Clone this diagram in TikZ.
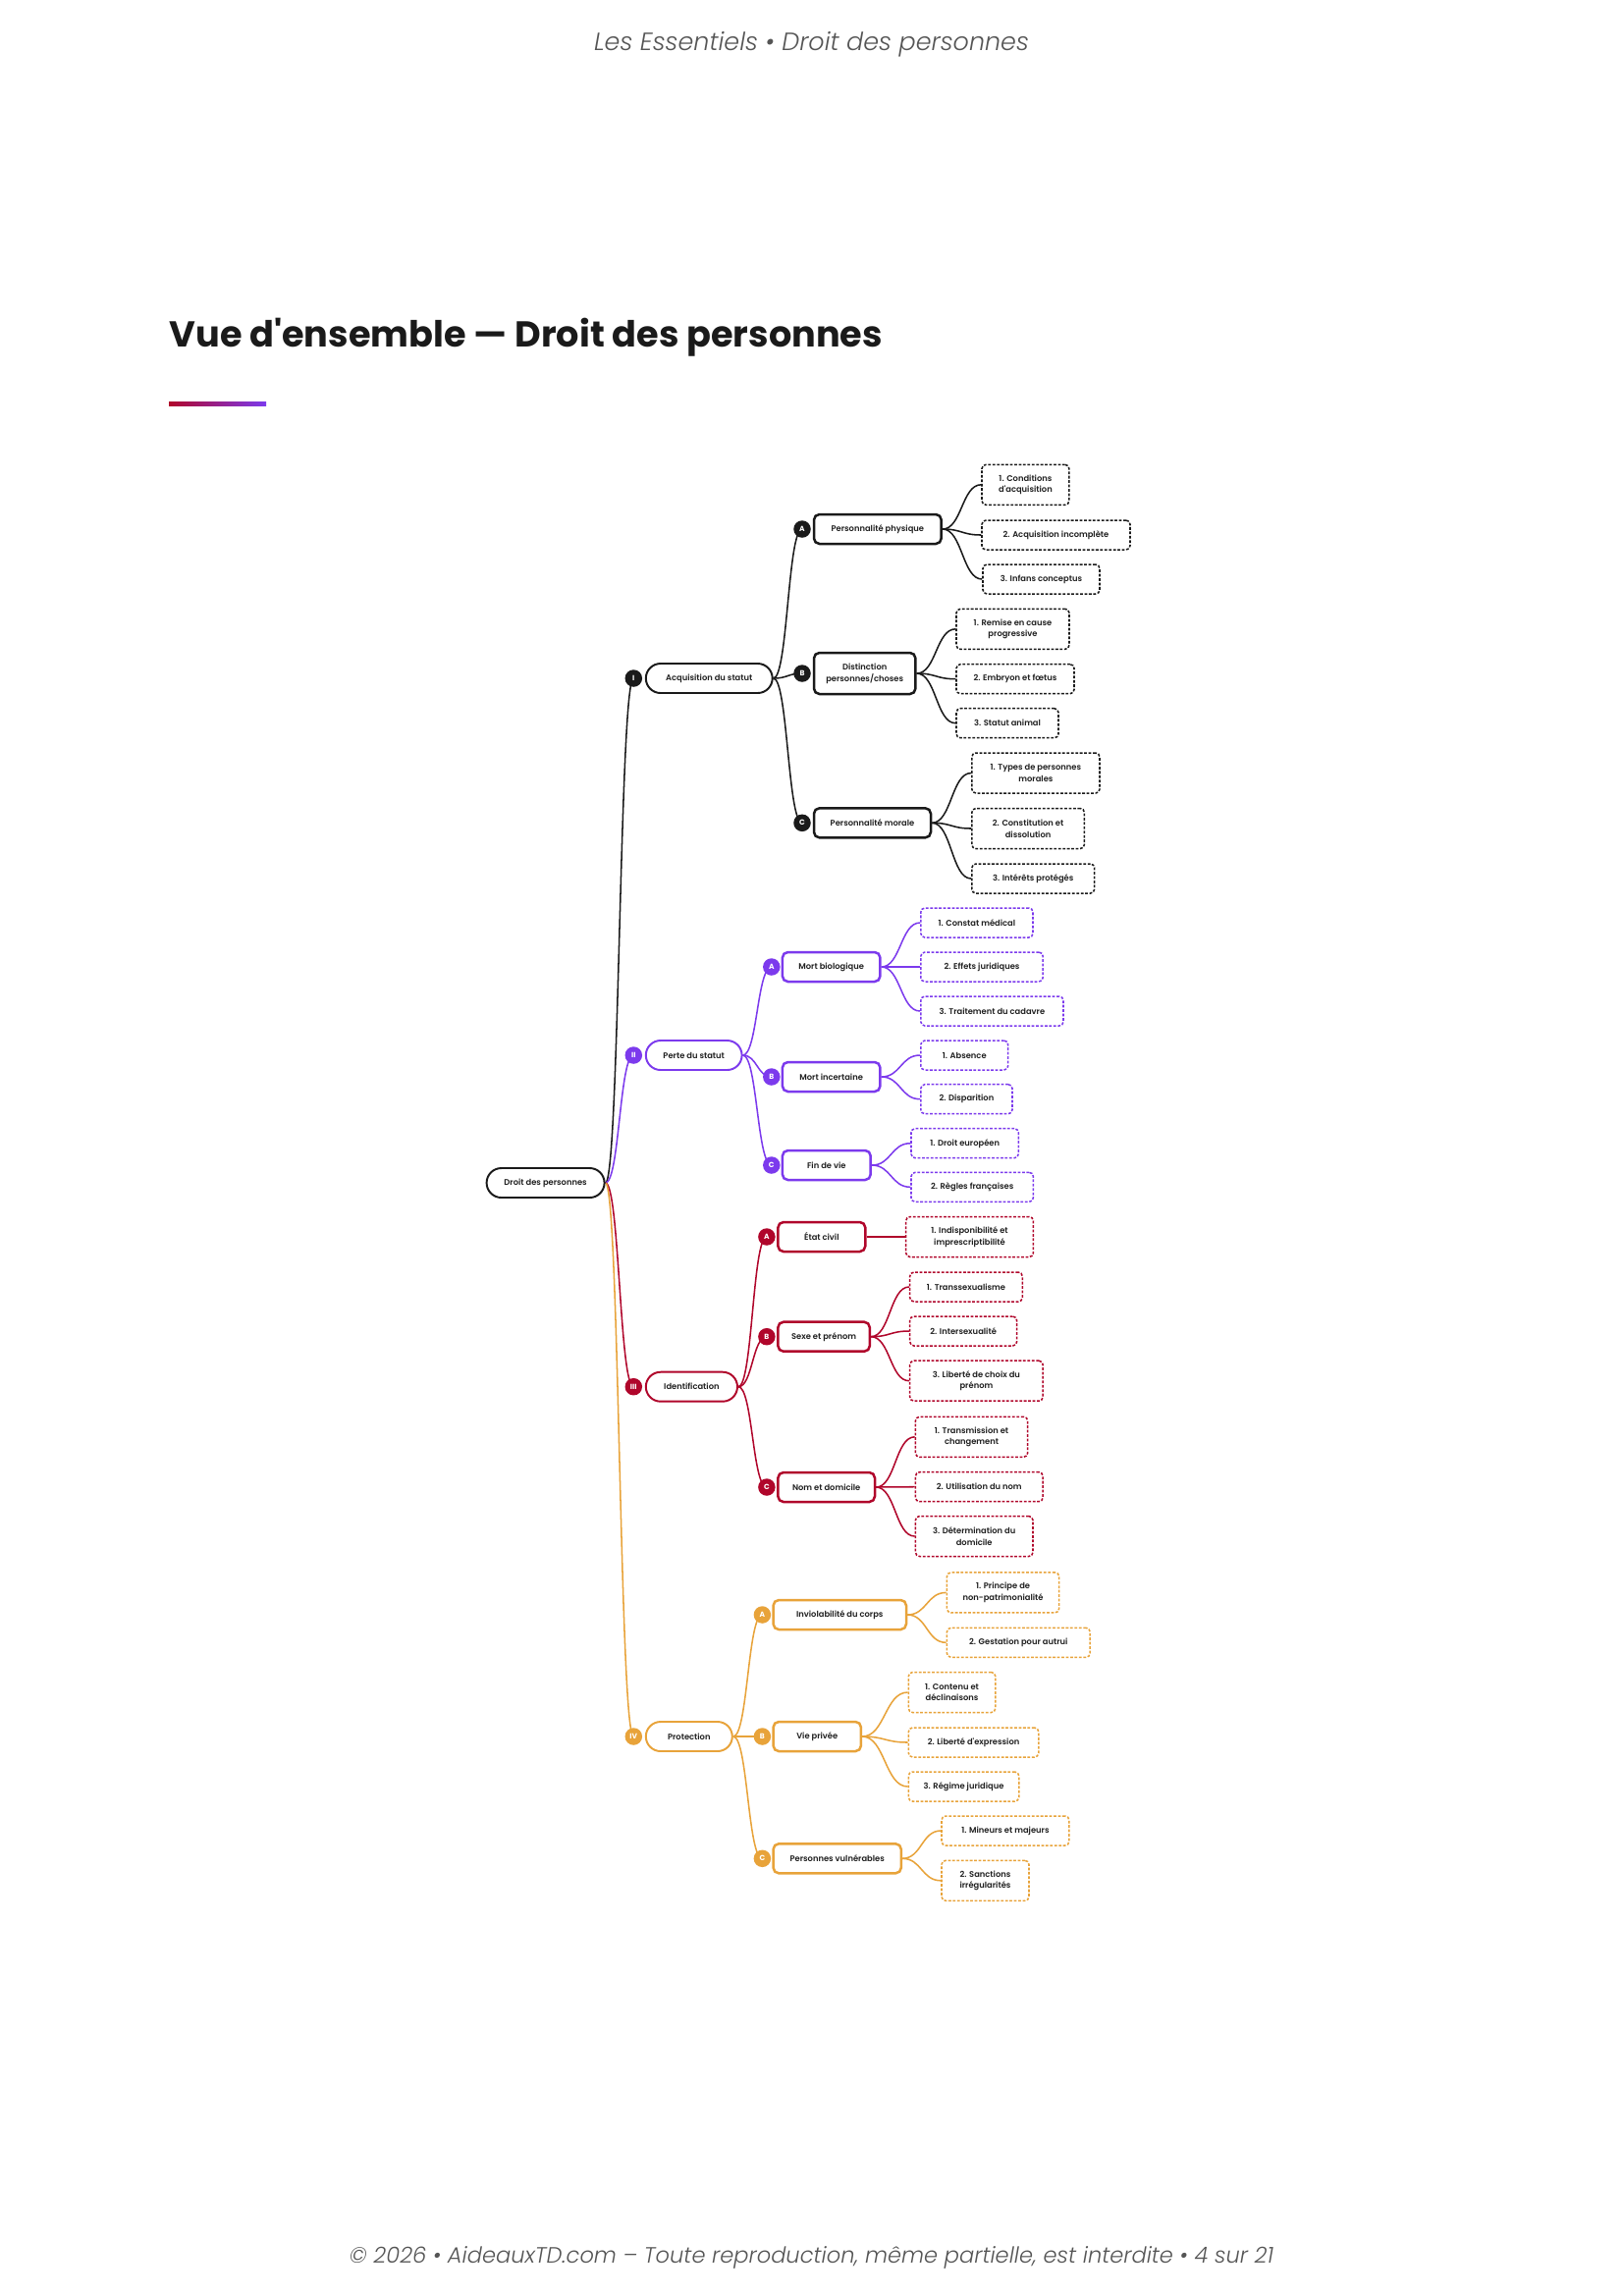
\documentclass[tikz,border=0pt]{standalone}
\usepackage{fontspec}
\setmainfont{Poppins}
\newfontfamily\pmed{Poppins SemiBold}
\newfontfamily\plight{Poppins Light}[ItalicFont={Poppins Light Italic}]
\usetikzlibrary{calc}
\definecolor{cblack}{HTML}{1A1A1A}
\definecolor{cpurple}{HTML}{7C3AED}
\definecolor{cred}{HTML}{B0062B}
\definecolor{corange}{HTML}{E8A33A}
\definecolor{ctext}{HTML}{1F1F1F}
\definecolor{cgray}{HTML}{555555}
\pgfdeclarelayer{bg}
\pgfsetlayers{bg,main}
\newcommand\nfont{\pmed\fontsize{3}{4.2}\selectfont}
\tikzset{
  rootbox/.style={draw=cblack, line width=0.7pt, fill=white, rounded corners=5.4pt, inner sep=0pt, font=\nfont, text=ctext},
  pill/.style={draw=#1, line width=0.7pt, fill=white, rounded corners=5.4pt, inner sep=0pt, font=\nfont, text=ctext},
  sub/.style={draw=#1, line width=0.9pt, fill=white, rounded corners=2pt, inner sep=0pt, font=\nfont, text=ctext, align=center},
  leaf/.style={draw=#1, line width=0.55pt, dash pattern=on 1pt off 0.6pt, fill=white, rounded corners=1.5pt, inner sep=0pt, font=\nfont, text=ctext, align=center},
  badge/.style={circle, fill=#1, minimum size=6.3pt, inner sep=0pt, text=white, font=\fontsize{2.7}{2.7}\selectfont\bfseries},
  lnk/.style={draw=#1, line width=0.55pt},
}
\newcommand\mknode[7]{\node[#1, minimum width={(#4-#3)*0.36pt}, minimum height={#6*0.36pt}] (#2) at ({(#3+#4)/2},#5) {#7};}
\newcommand\bdg[5]{\node[badge=#2] (#1) at (#3,#4) {#5};}
\newcommand\lk[3]{\draw[lnk=#1] let \p1=(#2), \p2=(#3) in (\p1) .. controls ({(\x1+\x2)/2},\y1) and ({(\x1+\x2)/2},\y2) .. (\p2);}
\begin{document}
\begin{tikzpicture}[x=0.36pt,y=-0.36pt]
\useasboundingbox (0,0) rectangle (1653,2339);
\begin{pgfonlayer}{bg}
\fill[white] (0,0) rectangle (1653,2339);
\end{pgfonlayer}

% header, title, footer
\node[font=\plight\fontsize{9.15}{11}\selectfont\itshape, text=cgray] (hdr) at (826.5,45) {Les Essentiels • Droit des personnes};
\node[anchor=west, font=\fontsize{13.2}{15}\selectfont\bfseries, text=cblack, inner sep=0pt] (title) at (172,344) {Vue d\textquotesingle ensemble — Droit des personnes};
\shade[left color=cred, right color=cpurple] (172,409) rectangle (271,413);
\node[font=\plight\fontsize{8.12}{10}\selectfont\itshape, text=cgray] (ftr) at (826.5,2300) {© 2026 • AideauxTD.com – Toute reproduction, même partielle, est interdite • 4 sur 21};

% root
\mknode{rootbox}{root}{495.6}{615.6}{1205}{30}{Droit des personnes}

% level 1
\mknode{pill=cblack}{I}{657.8}{786.7}{691}{30}{Acquisition du statut}
\mknode{pill=cpurple}{II}{657.8}{755.6}{1075}{30}{Perte du statut}
\mknode{pill=cred}{III}{657.8}{751}{1412.7}{30}{Identification}
\mknode{pill=corange}{IV}{657.8}{745.8}{1769}{30}{Protection}
\bdg{bI}{cblack}{645.3}{691}{I}
\bdg{bII}{cpurple}{645.3}{1075}{II}
\bdg{bIII}{cred}{645.3}{1412.7}{III}
\bdg{bIV}{corange}{645.3}{1769}{IV}

% level 2
\mknode{sub=cblack}{IA}{829}{958.7}{539}{30}{Personnalité physique}
\mknode{sub=cblack}{IB}{829}{932.4}{686}{42}{Distinction\\personnes/choses}
\mknode{sub=cblack}{IC}{829}{948}{838.3}{30}{Personnalité morale}
\bdg{bIA}{cblack}{817}{539}{A}
\bdg{bIB}{cblack}{817}{686}{B}
\bdg{bIC}{cblack}{817}{838.3}{C}

\mknode{sub=cpurple}{IIA}{796.9}{896.4}{985}{30}{Mort biologique}
\mknode{sub=cpurple}{IIB}{796.9}{896.4}{1097}{30}{Mort incertaine}
\mknode{sub=cpurple}{IIC}{796.9}{886.7}{1187}{30}{Fin de vie}
\bdg{bIIA}{cpurple}{785.8}{985}{A}
\bdg{bIIB}{cpurple}{785.8}{1097}{B}
\bdg{bIIC}{cpurple}{785.8}{1187}{C}

\mknode{sub=cred}{IIIA}{792.4}{881.3}{1260}{30}{État civil}
\mknode{sub=cred}{IIIB}{792.4}{885.8}{1361.7}{30}{Sexe et prénom}
\mknode{sub=cred}{IIIC}{792.4}{891}{1515}{30}{Nom et domicile}
\bdg{bIIIA}{cred}{780.9}{1260}{A}
\bdg{bIIIB}{cred}{780.9}{1361.7}{B}
\bdg{bIIIC}{cred}{780.9}{1515}{C}

\mknode{sub=corange}{IVA}{787.6}{923}{1645}{30}{Inviolabilité du corps}
\mknode{sub=corange}{IVB}{787.6}{876.9}{1769}{30}{Vie privée}
\mknode{sub=corange}{IVC}{787.6}{917.8}{1893.3}{30}{Personnes vulnérables}
\bdg{bIVA}{corange}{776.4}{1645}{A}
\bdg{bIVB}{corange}{776.4}{1769}{B}
\bdg{bIVC}{corange}{776.4}{1893.3}{C}

% level 3
\mknode{leaf=cblack}{IA1}{1000}{1088.9}{493.8}{41}{1. Conditions\\d\textquotesingle acquisition}
\mknode{leaf=cblack}{IA2}{1000}{1151}{545}{30}{2. Acquisition incomplète}
\mknode{leaf=cblack}{IA3}{1001}{1120}{590}{30}{3. Infans conceptus}
\mknode{leaf=cblack}{IB1}{974}{1089}{640.8}{41}{1. Remise en cause\\progressive}
\mknode{leaf=cblack}{IB2}{974}{1094}{691.7}{30}{2. Embryon et fœtus}
\mknode{leaf=cblack}{IB3}{974}{1078}{736.7}{30}{3. Statut animal}
\mknode{leaf=cblack}{IC1}{989.8}{1120}{787.5}{41}{1. Types de personnes\\morales}
\mknode{leaf=cblack}{IC2}{989.8}{1104.4}{844}{41}{2. Constitution et\\dissolution}
\mknode{leaf=cblack}{IC3}{989.8}{1114.7}{895}{30}{3. Intérêts protégés}

\mknode{leaf=cpurple}{IIA1}{937.8}{1052}{940}{30}{1. Constat médical}
\mknode{leaf=cpurple}{IIA2}{937.8}{1062.2}{985}{30}{2. Effets juridiques}
\mknode{leaf=cpurple}{IIA3}{937.8}{1083}{1030}{30}{3. Traitement du cadavre}
\mknode{leaf=cpurple}{IIB1}{937.8}{1026.7}{1075}{30}{1. Absence}
\mknode{leaf=cpurple}{IIB2}{937.8}{1031}{1119.7}{30}{2. Disparition}
\mknode{leaf=cpurple}{IIC1}{928}{1037.3}{1164.7}{30}{1. Droit européen}
\mknode{leaf=cpurple}{IIC2}{928}{1052.4}{1209.3}{30}{2. Règles françaises}

\mknode{leaf=cred}{IIIA1}{922.7}{1052.4}{1260}{41}{1. Indisponibilité et\\imprescriptibilité}
\mknode{leaf=cred}{IIIB1}{926.7}{1041.3}{1311}{30}{1. Transsexualisme}
\mknode{leaf=cred}{IIIB2}{926.7}{1035.6}{1356}{30}{2. Intersexualité}
\mknode{leaf=cred}{IIIB3}{926.7}{1062.2}{1406.7}{41}{3. Liberté de choix du\\prénom}
\mknode{leaf=cred}{IIIC1}{932.4}{1046.7}{1463.8}{41}{1. Transmission et\\changement}
\mknode{leaf=cred}{IIIC2}{932.4}{1062.2}{1514.7}{30}{2. Utilisation du nom}
\mknode{leaf=cred}{IIIC3}{932.4}{1052}{1565}{41}{3. Détermination du\\domicile}

\mknode{leaf=corange}{IVA1}{964.4}{1078.7}{1622.4}{41}{1. Principe de\\non-patrimonialité}
\mknode{leaf=corange}{IVA2}{964.4}{1110.2}{1673.3}{30}{2. Gestation pour autrui}
\mknode{leaf=corange}{IVB1}{925.3}{1013.8}{1724}{41}{1. Contenu et\\déclinaisons}
\mknode{leaf=corange}{IVB2}{925.3}{1057.8}{1775}{30}{2. Liberté d\textquotesingle expression}
\mknode{leaf=corange}{IVB3}{925.3}{1037.8}{1820}{30}{3. Régime juridique}
\mknode{leaf=corange}{IVC1}{959}{1088.9}{1865}{30}{1. Mineurs et majeurs}
\mknode{leaf=corange}{IVC2}{959}{1048}{1915.8}{41}{2. Sanctions\\irrégularités}

% connectors
\begin{pgfonlayer}{bg}
\lk{cblack}{root.east}{bI}
\lk{cpurple}{root.east}{bII}
\lk{cred}{root.east}{bIII}
\lk{corange}{root.east}{bIV}

\lk{cblack}{I.east}{bIA}
\lk{cblack}{I.east}{bIB}
\lk{cblack}{I.east}{bIC}
\lk{cpurple}{II.east}{bIIA}
\lk{cpurple}{II.east}{bIIB}
\lk{cpurple}{II.east}{bIIC}
\lk{cred}{III.east}{bIIIA}
\lk{cred}{III.east}{bIIIB}
\lk{cred}{III.east}{bIIIC}
\lk{corange}{IV.east}{bIVA}
\lk{corange}{IV.east}{bIVB}
\lk{corange}{IV.east}{bIVC}

\lk{cblack}{IA.east}{IA1.west}
\lk{cblack}{IA.east}{IA2.west}
\lk{cblack}{IA.east}{IA3.west}
\lk{cblack}{IB.east}{IB1.west}
\lk{cblack}{IB.east}{IB2.west}
\lk{cblack}{IB.east}{IB3.west}
\lk{cblack}{IC.east}{IC1.west}
\lk{cblack}{IC.east}{IC2.west}
\lk{cblack}{IC.east}{IC3.west}

\lk{cpurple}{IIA.east}{IIA1.west}
\lk{cpurple}{IIA.east}{IIA2.west}
\lk{cpurple}{IIA.east}{IIA3.west}
\lk{cpurple}{IIB.east}{IIB1.west}
\lk{cpurple}{IIB.east}{IIB2.west}
\lk{cpurple}{IIC.east}{IIC1.west}
\lk{cpurple}{IIC.east}{IIC2.west}

\lk{cred}{IIIA.east}{IIIA1.west}
\lk{cred}{IIIB.east}{IIIB1.west}
\lk{cred}{IIIB.east}{IIIB2.west}
\lk{cred}{IIIB.east}{IIIB3.west}
\lk{cred}{IIIC.east}{IIIC1.west}
\lk{cred}{IIIC.east}{IIIC2.west}
\lk{cred}{IIIC.east}{IIIC3.west}

\lk{corange}{IVA.east}{IVA1.west}
\lk{corange}{IVA.east}{IVA2.west}
\lk{corange}{IVB.east}{IVB1.west}
\lk{corange}{IVB.east}{IVB2.west}
\lk{corange}{IVB.east}{IVB3.west}
\lk{corange}{IVC.east}{IVC1.west}
\lk{corange}{IVC.east}{IVC2.west}
\end{pgfonlayer}
\end{tikzpicture}
\end{document}
